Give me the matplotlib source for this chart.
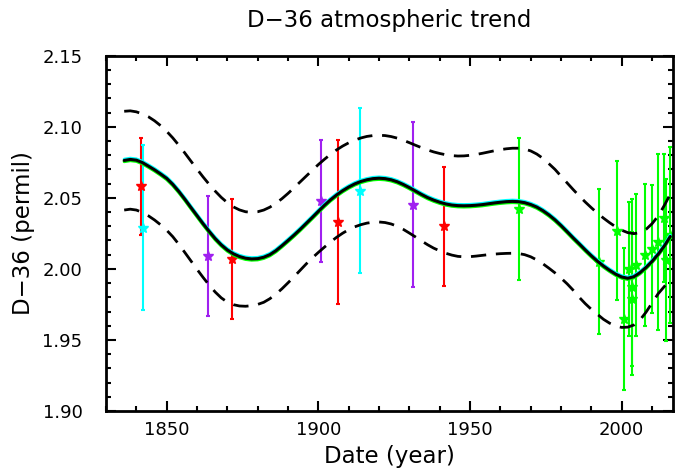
import matplotlib
matplotlib.use("Agg")
import matplotlib.pyplot as plt
from matplotlib.ticker import MultipleLocator, FormatStrFormatter
from matplotlib.transforms import offset_copy

# ---------------- data ----------------
red_years = [1841.5, 1871.4, 1906.6, 1941.5]
red_vals = [2.058, 2.007, 2.033, 2.030]
red_errs = [0.034, 0.042, 0.058, 0.042]

cyan_years = [1842.2, 1913.6]
cyan_vals = [2.029, 2.055]
cyan_errs = [0.058, 0.058]

purple_years = [1863.6, 1901.0, 1931.1]
purple_vals = [2.009, 2.048, 2.045]
purple_errs = [0.042, 0.043, 0.058]

green_years = [1966.3, 1992.6, 1998.3, 2000.7, 2002.5, 2003.3, 2003.5,
               2004.7, 2007.7, 2009.9, 2012.1, 2014.0, 2014.6, 2016.0]
green_vals = [2.042, 2.005, 2.027, 1.965, 2.000, 1.987, 1.979,
              2.003, 2.010, 2.014, 2.019, 2.036, 2.006, 2.024]
green_errs = [0.050, 0.051, 0.049, 0.050, 0.047, 0.062, 0.047,
              0.050, 0.050, 0.045, 0.062, 0.045, 0.057, 0.062]

# trend curve and its envelope, read every 2 years from 1836 to 2016
curve_years = list(range(1836, 2017, 2))
fit_vals = [
    2.0763, 2.0770, 2.0765, 2.0748, 2.0723, 2.0697, 2.0668, 2.0637, 2.0595, 2.0545,
    2.0490, 2.0432, 2.0375, 2.0318, 2.0264, 2.0213, 2.0169, 2.0133, 2.0106, 2.0087,
    2.0075, 2.0070, 2.0072, 2.0082, 2.0100, 2.0128, 2.0163, 2.0200, 2.0238, 2.0278,
    2.0320, 2.0362, 2.0405, 2.0447, 2.0486, 2.0520, 2.0550, 2.0576, 2.0598, 2.0615,
    2.0627, 2.0635, 2.0638, 2.0635, 2.0627, 2.0613, 2.0594, 2.0572, 2.0548, 2.0524,
    2.0502, 2.0484, 2.0469, 2.0457, 2.0449, 2.0445, 2.0444, 2.0445, 2.0448, 2.0452,
    2.0458, 2.0464, 2.0469, 2.0473, 2.0475, 2.0473, 2.0466, 2.0453, 2.0435, 2.0410,
    2.0380, 2.0345, 2.0305, 2.0262, 2.0218, 2.0176, 2.0133, 2.0092, 2.0054, 2.0020,
    1.9990, 1.9963, 1.9943, 1.9934, 1.9945, 1.9973, 2.0010, 2.0053, 2.0103, 2.0160,
    2.0228]
upper_vals = [
    2.1109, 2.1112, 2.1105, 2.1090, 2.1070, 2.1042, 2.1008, 2.0968, 2.0922, 2.0870,
    2.0815, 2.0758, 2.0702, 2.0647, 2.0595, 2.0547, 2.0503, 2.0466, 2.0436, 2.0415,
    2.0402, 2.0398, 2.0402, 2.0414, 2.0434, 2.0461, 2.0494, 2.0531, 2.0571, 2.0612,
    2.0653, 2.0694, 2.0734, 2.0771, 2.0806, 2.0837, 2.0864, 2.0887, 2.0906, 2.0921,
    2.0932, 2.0938, 2.0940, 2.0938, 2.0931, 2.0920, 2.0905, 2.0888, 2.0870, 2.0853,
    2.0837, 2.0823, 2.0812, 2.0803, 2.0797, 2.0794, 2.0795, 2.0799, 2.0805, 2.0813,
    2.0822, 2.0831, 2.0839, 2.0845, 2.0849, 2.0849, 2.0843, 2.0830, 2.0808, 2.0778,
    2.0740, 2.0700, 2.0652, 2.0605, 2.0558, 2.0513, 2.0470, 2.0430, 2.0392, 2.0357,
    2.0325, 2.0296, 2.0272, 2.0255, 2.0248, 2.0255, 2.0278, 2.0318, 2.0372, 2.0445,
    2.0525]
lower_vals = [
    2.0414, 2.0420, 2.0414, 2.0397, 2.0373, 2.0344, 2.0310, 2.0272, 2.0227, 2.0173,
    2.0115, 2.0056, 1.9997, 1.9940, 1.9886, 1.9837, 1.9796, 1.9766, 1.9748, 1.9739,
    1.9737, 1.9741, 1.9750, 1.9765, 1.9790, 1.9822, 1.9860, 1.9902, 1.9945, 1.9990,
    2.0035, 2.0077, 2.0116, 2.0153, 2.0189, 2.0222, 2.0251, 2.0276, 2.0296, 2.0311,
    2.0322, 2.0328, 2.0330, 2.0326, 2.0316, 2.0300, 2.0278, 2.0252, 2.0225, 2.0197,
    2.0170, 2.0146, 2.0127, 2.0110, 2.0097, 2.0088, 2.0085, 2.0086, 2.0090, 2.0095,
    2.0100, 2.0104, 2.0107, 2.0109, 2.0110, 2.0108, 2.0100, 2.0085, 2.0063, 2.0036,
    2.0005, 1.9972, 1.9935, 1.9895, 1.9850, 1.9800, 1.9755, 1.9715, 1.9680, 1.9645,
    1.9618, 1.9598, 1.9588, 1.9590, 1.9605, 1.9640, 1.9695, 1.9760, 1.9825, 1.9875,
    1.9925]

x_ticks = [1850, 1900, 1950, 2000]
y_ticks = [1.90, 1.95, 2.00, 2.05, 2.10, 2.15]

# ---------------- figure ----------------
W, H = 683, 474
fig = plt.figure(figsize=(W / 100, H / 100), dpi=100)
ax_l, ax_r, ax_t, ax_b = 106, 673.3, 55.7, 411
ax = fig.add_axes([ax_l / W, 1 - ax_b / H, (ax_r - ax_l) / W, (ax_b - ax_t) / H])

ebkw = dict(fmt='*', ms=7.5, capsize=1.6, elinewidth=1.5, capthick=1.5, zorder=2)
ax.errorbar(red_years, red_vals, yerr=red_errs, color='#ff0000', **ebkw)
ax.errorbar(cyan_years, cyan_vals, yerr=cyan_errs, color='#00ffff', **ebkw)
ax.errorbar(purple_years, purple_vals, yerr=purple_errs, color='#a020f0', **ebkw)
ax.errorbar(green_years, green_vals, yerr=green_errs, color='#00ff00', **ebkw)

tr_up = offset_copy(ax.transData, fig=fig, x=0, y=1.2, units='dots')
tr_dn = offset_copy(ax.transData, fig=fig, x=0, y=-1.2, units='dots')
lkw = dict(solid_joinstyle='round', solid_capstyle='round')
ax.plot(curve_years, fit_vals, color='#00ffff', lw=2.2, transform=tr_up, zorder=3, **lkw)
ax.plot(curve_years, fit_vals, color='#00ff00', lw=2.2, transform=tr_dn, zorder=3, **lkw)
ax.plot(curve_years, fit_vals, color='black', lw=2.2, zorder=4, **lkw)

dkw = dict(color='black', lw=2.0, dashes=(5.5, 3.5), dash_joinstyle='round', zorder=4)
ax.plot(curve_years, upper_vals, **dkw)
ax.plot(curve_years, lower_vals, **dkw)

ax.set_xlim(1830, 2017)
ax.set_ylim(1.90, 2.15)
ax.set_xticks(x_ticks)
ax.set_yticks(y_ticks)
ax.xaxis.set_minor_locator(MultipleLocator(10))
ax.yaxis.set_minor_locator(MultipleLocator(0.01))
ax.yaxis.set_major_formatter(FormatStrFormatter('%.2f'))
ax.tick_params(which='both', direction='in', top=True, right=True, width=1.5,
               labelsize=13, colors='black')
ax.tick_params(which='major', length=7)
ax.tick_params(which='minor', length=3.6)
ax.tick_params(axis='y', which='major', pad=17)
ax.tick_params(axis='x', which='major', pad=7)
for s in ax.spines.values():
    s.set_linewidth(2)

cx = (ax_l + ax_r) / 2 / W
fig.text(cx, 1 - 26.7 / H, 'D\u221236 atmospheric trend', ha='center',
         va='baseline', fontsize=16.5)
fig.text(cx, 1 - 463 / H, 'Date (year)', ha='center', va='baseline', fontsize=16.5)
fig.text(30 / W, 1 - ((ax_t + ax_b) / 2) / H, 'D\u221236 (permil)', rotation=90,
         rotation_mode='anchor', ha='center', va='baseline', fontsize=16.5)

fig.savefig('out.png', dpi=100)
